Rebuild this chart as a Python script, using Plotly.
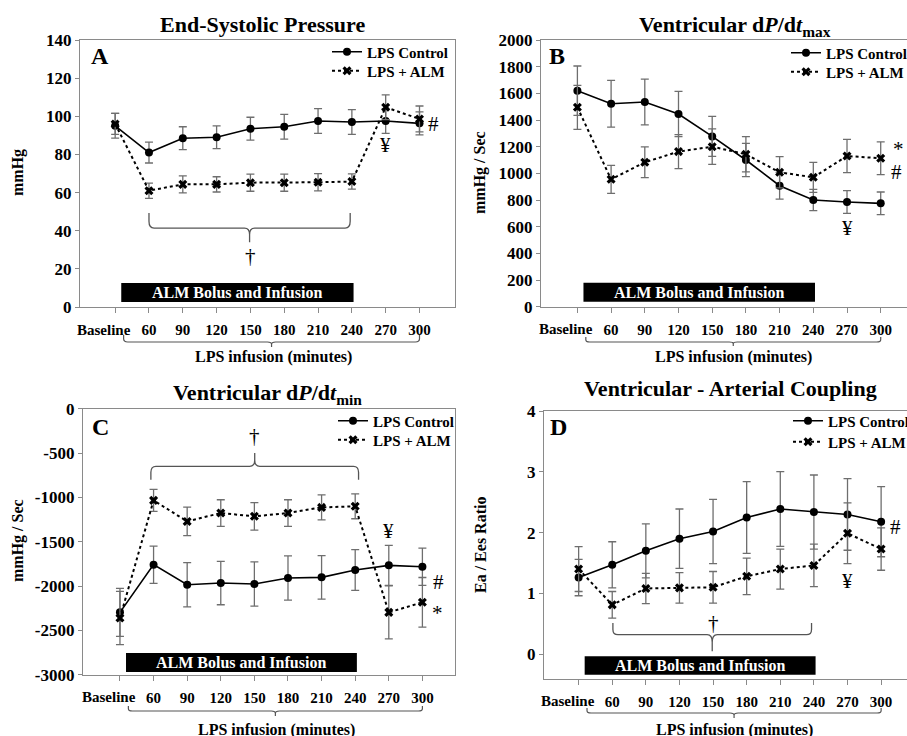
import plotly.graph_objects as go

# ---------------- data ----------------
categories = ["Baseline", "60", "90", "120", "150", "180", "210", "240", "270", "300"]

esp_control = [95, 81, 88.5, 89, 93.5, 94.5, 97.5, 97, 97.5, 96.3]
esp_control_err = [6.5, 5.5, 6, 6, 6, 6.5, 6.5, 6.5, 6.5, 6]
esp_alm = [96, 61, 64.3, 64.3, 65.2, 65.2, 65.4, 65.8, 104.7, 98.6]
esp_alm_err = [5.5, 4, 4.5, 4, 4.5, 4.5, 4.5, 4, 6.5, 6.8]

dpmax_control = [1620, 1522, 1535, 1445, 1277, 1100, 907, 800, 785, 775]
dpmax_control_err = [185, 175, 172, 170, 150, 125, 100, 80, 85, 85]
dpmax_alm = [1495, 955, 1083, 1163, 1200, 1143, 1008, 970, 1130, 1113]
dpmax_alm_err = [165, 105, 115, 128, 133, 132, 117, 113, 125, 123]

dpmin_control = [-2297, -1759, -1985, -1966, -1977, -1910, -1902, -1819, -1767, -1782]
dpmin_control_err = [270, 210, 250, 245, 250, 250, 245, 230, 225, 210]
dpmin_alm = [-2361, -1034, -1271, -1177, -1214, -1177, -1113, -1101, -2297, -2184]
dpmin_alm_err = [300, 125, 160, 150, 155, 150, 140, 140, 300, 280]
dpmin_ticks = [-3000, -2500, -2000, -1500, -1000, -500, 0]
dpmin_tick_labels = ["-3000", "-2500", "-2000", "-1500", "-1000", "-500", "0"]

vac_control = [1.26, 1.47, 1.70, 1.90, 2.02, 2.25, 2.39, 2.34, 2.30, 2.18]
vac_control_err = [0.30, 0.38, 0.445, 0.49, 0.53, 0.59, 0.615, 0.61, 0.59, 0.577]
vac_alm = [1.40, 0.81, 1.08, 1.09, 1.10, 1.28, 1.40, 1.46, 1.99, 1.73]
vac_alm_err = [0.37, 0.22, 0.25, 0.25, 0.26, 0.30, 0.33, 0.35, 0.50, 0.35]

series_names = ["LPS Control", "LPS + ALM"]
x_title = "LPS infusion (minutes)"
box_label = "ALM Bolus and Infusion"

# ---------------- styling / layout helpers ----------------
W, H = 907, 736
FONT = "Liberation Serif, Times New Roman, serif"
AXC = "#8a8a8a"
ERRC = "#6e6e6e"
BRC = "#555555"

def px(x):
    return x / W

def py(y):
    return 1 - y / H

idx = list(range(len(categories)))

panels = [
    dict(key="", title="<b>End-Systolic Pressure</b>", title_xy=(262, 24),
         letter="A", letter_xy=(100, 56),
         xdom=(80, 455), ydom=(40, 307), xrange=(-1.04, 10.05), yrange=(0, 140), dtick=20,
         yticks=None,
         ytitle="mmHg", ytitle_xy=(18, 173),
         ctrl=(esp_control, esp_control_err), alm=(esp_alm, esp_alm_err),
         box_y=(2.6, 12.6),
         legend_x=327, legend_rows=(52, 71), mirror_y=True,
         xt_xy=(273, 357), bb=(335, 342, 347),
         brace=(1.0, 6.95, 49.3, 41.4, 34.0),
         marks=[("#", 9.42, 96), ("¥", 8, 85), ("†", 4, 27)]),
    dict(key="2", title="<b>Ventricular d<i>P</i>/d<i>t</i><sub>max</sub></b>", title_xy=(735, 26),
         letter="B", letter_xy=(557, 56),
         xdom=(541, 907), ydom=(40, 306.7), xrange=(-1.08, 9.78), yrange=(0, 2000), dtick=200,
         yticks=None,
         ytitle="mmHg / Sec", ytitle_xy=(480, 173),
         ctrl=(dpmax_control, dpmax_control_err), alm=(dpmax_alm, dpmax_alm_err),
         box_y=(37.5, 180),
         legend_x=786, legend_rows=(53, 72), mirror_y=False,
         xt_xy=(733, 357), bb=(337, 342, 346),
         brace=None,
         marks=[("*", 9.52, 1180), ("#", 9.46, 1012), ("¥", 8, 587)]),
    dict(key="3", title="<b>Ventricular d<i>P</i>/d<i>t</i><sub>min</sub></b>", title_xy=(267, 394),
         letter="C", letter_xy=(100, 427),
         xdom=(83, 455), ydom=(408.7, 674.7), xrange=(-1.10, 9.97), yrange=(-3000, 0), dtick=500,
         yticks=(dpmin_ticks, dpmin_tick_labels),
         ytitle="mmHg / Sec", ytitle_xy=(18, 541),
         ctrl=(dpmin_control, dpmin_control_err), alm=(dpmin_alm, dpmin_alm_err),
         box_y=(-2970, -2755),
         legend_x=333, legend_rows=(421, 440), mirror_y=True,
         xt_xy=(276, 730), bb=(706, 711, 716),
         brace=(0.92, 7.1, -800, -650, -500),
         marks=[("†", 4, -312), ("¥", 8, -1383), ("#", 9.49, -1960), ("*", 9.46, -2300)]),
    dict(key="4", title="<b>Ventricular - Arterial Coupling</b>", title_xy=(730, 388),
         letter="D", letter_xy=(558, 427),
         xdom=(544, 907), ydom=(411.3, 678.7), xrange=(-1.03, 9.77), yrange=(-0.407, 4), dtick=1,
         yticks=None,
         ytitle="Ea / Ees Ratio", ytitle_xy=(480, 545),
         ctrl=(vac_control, vac_control_err), alm=(vac_alm, vac_alm_err),
         box_y=(-0.34, -0.038),
         legend_x=788, legend_rows=(421, 442), mirror_y=False,
         xt_xy=(734, 730), bb=(708, 713, 718),
         brace=(1.02, 6.93, 0.511, 0.319, 0.044),
         marks=[("#", 9.44, 2.09), ("¥", 8, 1.2), ("†", 4, 0.51)]),
]


def brace_path(x0, x1, ye, ym, yt, dx, fy=0.45):
    xc = (x0 + x1) / 2
    yc = ym + (ye - ym) * fy
    yt2 = ym + (yt - ym) * fy
    return (f"M {x0},{ye} L {x0},{yc} Q {x0},{ym} {x0 + dx},{ym} "
            f"L {xc - dx},{ym} Q {xc},{ym} {xc},{yt2} L {xc},{yt} "
            f"M {xc},{yt2} Q {xc},{ym} {xc + dx},{ym} "
            f"L {x1 - dx},{ym} Q {x1},{ym} {x1},{yc} L {x1},{ye}")


fig = go.Figure()
layout = dict(
    width=W, height=H,
    margin=dict(l=0, r=0, t=0, b=0, autoexpand=False),
    paper_bgcolor="white", plot_bgcolor="white",
    font=dict(family=FONT, color="black"),
    showlegend=True,
)
shapes = []
annotations = []
legend_count = 0

for p in panels:
    k = p["key"]
    xa, ya = "x" + k, "y" + k
    ctrl, ctrl_err = p["ctrl"]
    alm, alm_err = p["alm"]

    legs = []
    for row in p["legend_rows"]:
        legend_count += 1
        name = "legend" if legend_count == 1 else f"legend{legend_count}"
        legs.append(name)
        layout[name] = dict(
            x=px(p["legend_x"]), y=py(row), xanchor="left", yanchor="middle",
            bgcolor="rgba(0,0,0,0)", borderwidth=0, itemwidth=30,
            font=dict(family=FONT, size=15, color="black", weight="bold"),
        )

    fig.add_trace(go.Scatter(
        x=idx, y=ctrl, name=series_names[0], mode="lines+markers",
        line=dict(color="black", width=1.6),
        marker=dict(symbol="circle", size=8, color="black"),
        error_y=dict(type="data", array=ctrl_err, color=ERRC, thickness=1.3, width=4),
        xaxis=xa, yaxis=ya, legend=legs[0], cliponaxis=False))
    fig.add_trace(go.Scatter(
        x=idx, y=alm, name=series_names[1], mode="lines+markers",
        line=dict(color="black", width=2, dash="dot"),
        marker=dict(symbol="x", size=8, color="black"),
        error_y=dict(type="data", array=alm_err, color=ERRC, thickness=1.3, width=4),
        xaxis=xa, yaxis=ya, legend=legs[1], cliponaxis=False))

    # labelled ticks for the time points; the first category label is placed
    # separately (left of its tick, as in the original); tick marks at every category
    layout["xaxis" + k] = dict(
        domain=[px(p["xdom"][0]), px(p["xdom"][1])], range=list(p["xrange"]),
        anchor=ya, tickmode="array", tickvals=idx[1:], ticktext=categories[1:], tickangle=0,
        showline=True, linecolor=AXC, linewidth=1.3, mirror=True,
        ticks="outside", ticklen=5, tickcolor=AXC, tickwidth=1.2,
        minor=dict(tickmode="array", tickvals=idx, ticks="outside", ticklen=5,
                   tickcolor=AXC, tickwidth=1.2, showgrid=False),
        showgrid=False, zeroline=False, ticklabelstandoff=4,
        tickfont=dict(family=FONT, size=15, color="black", weight="bold"),
    )
    yax = dict(
        domain=[py(p["ydom"][1]), py(p["ydom"][0])], range=list(p["yrange"]),
        anchor=xa, dtick=p["dtick"], tick0=0,
        showline=True, linecolor=AXC, linewidth=1.3, mirror=p["mirror_y"],
        ticks="outside", ticklen=4, tickcolor=AXC, tickwidth=1.2,
        showgrid=False, zeroline=False,
        tickfont=dict(family=FONT, size=17, color="black", weight="bold"),
    )
    if p["yticks"]:
        yax.update(tickmode="array", tickvals=p["yticks"][0], ticktext=p["yticks"][1])
    layout["yaxis" + k] = yax

    # first category label, shifted left of its tick as in the original
    annotations.append(dict(xref=xa, yref="paper", x=idx[0], y=py(p["ydom"][1] + 22.5),
                            text="<b>" + categories[0] + "</b>", showarrow=False,
                            xanchor="right", yanchor="middle", xshift=18,
                            font=dict(family=FONT, size=15, color="black")))

    # ALM bolus box
    shapes.append(dict(type="rect", xref=xa, yref=ya, x0=0.18, x1=7.05,
                       y0=p["box_y"][0], y1=p["box_y"][1],
                       fillcolor="black", line=dict(width=0), layer="above"))
    annotations.append(dict(xref=xa, yref=ya, x=(0.18 + 7.05) / 2,
                            y=(p["box_y"][0] + p["box_y"][1]) / 2,
                            text="<b>" + box_label + "</b>", showarrow=False,
                            font=dict(family=FONT, size=16, color="white")))

    # bottom brace under tick labels
    y_e, y_m, y_t = (py(v) for v in p["bb"])
    shapes.append(dict(type="path", xref=xa, yref="paper",
                       path=brace_path(0.25, 9.0, y_e, y_m, y_t, 0.12),
                       line=dict(color=BRC, width=1.2)))
    annotations.append(dict(xref="paper", yref="paper", x=px(p["xt_xy"][0]), y=py(p["xt_xy"][1]),
                            text="<b>" + x_title + "</b>", showarrow=False,
                            xanchor="center", yanchor="middle",
                            font=dict(family=FONT, size=16, color="black")))

    # significance brace inside plot
    if p["brace"]:
        b = p["brace"]
        shapes.append(dict(type="path", xref=xa, yref=ya,
                           path=brace_path(b[0], b[1], b[2], b[3], b[4], 0.15),
                           line=dict(color=BRC, width=1.3)))

    # title, panel letter, y title
    annotations.append(dict(xref="paper", yref="paper", x=px(p["title_xy"][0]), y=py(p["title_xy"][1]),
                            text=p["title"], showarrow=False, xanchor="center", yanchor="middle",
                            font=dict(family=FONT, size=22, color="black")))
    annotations.append(dict(xref="paper", yref="paper", x=px(p["letter_xy"][0]), y=py(p["letter_xy"][1]),
                            text="<b>" + p["letter"] + "</b>", showarrow=False, xanchor="center",
                            yanchor="middle", font=dict(family=FONT, size=24, color="black")))
    annotations.append(dict(xref="paper", yref="paper", x=px(p["ytitle_xy"][0]), y=py(p["ytitle_xy"][1]),
                            text="<b>" + p["ytitle"] + "</b>", showarrow=False, textangle=-90,
                            xanchor="center", yanchor="middle",
                            font=dict(family=FONT, size=16, color="black")))
    for txt, mx, my in p["marks"]:
        annotations.append(dict(xref=xa, yref=ya, x=mx, y=my, text=txt, showarrow=False,
                                xanchor="center", yanchor="middle",
                                font=dict(family=FONT, size=21, color="black")))

layout["shapes"] = shapes
layout["annotations"] = annotations
fig.update_layout(**layout)
fig.write_html("out.html", config={"displayModeBar": False},
               post_script="document.body.style.margin='0px';")
